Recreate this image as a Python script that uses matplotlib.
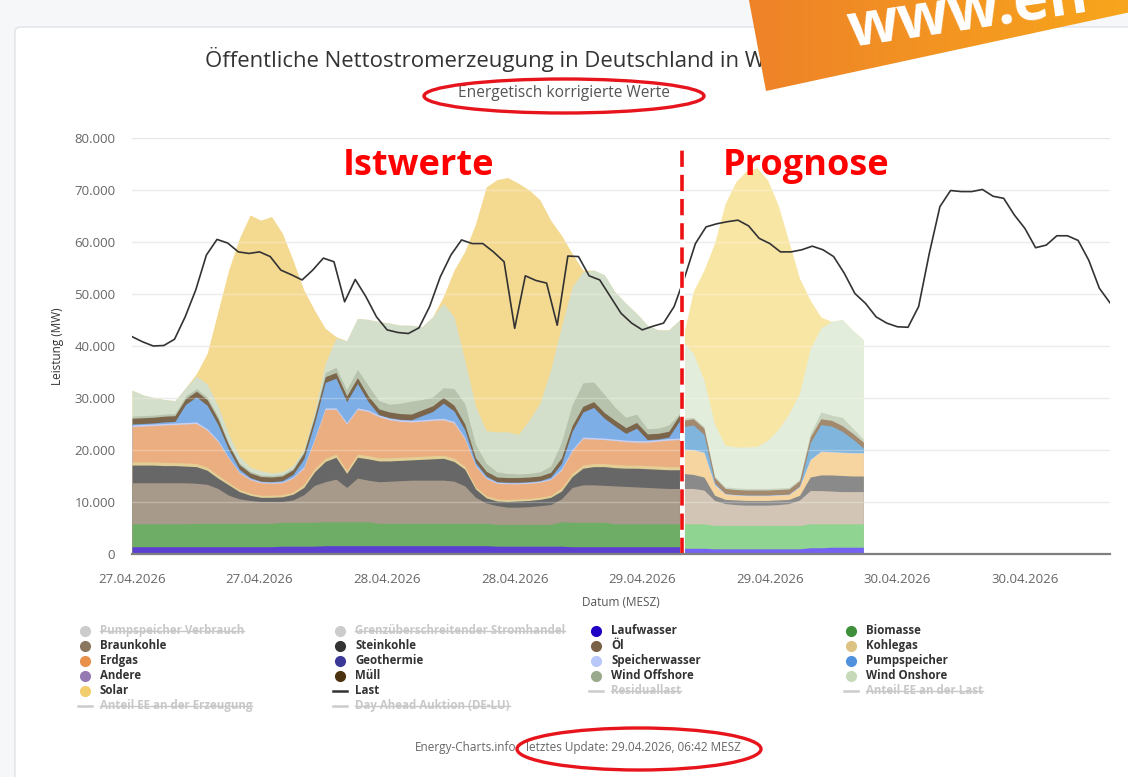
import numpy as np
import matplotlib
matplotlib.use("Agg")
import matplotlib.pyplot as plt
from matplotlib.lines import Line2D
from matplotlib.patches import Ellipse, Polygon, FancyBboxPatch
from matplotlib.colors import LinearSegmentedColormap

plt.rcParams["font.family"] = ["Open Sans", "DejaVu Sans"]

W, H = 1128, 777

# Istwerte in GW, ca. stündlich ab 27.04.2026 00:00 bis 29.04. ~03:30
laufwasser = [1.4, 1.4, 1.4, 1.4, 1.4, 1.4, 1.4, 1.4, 1.4, 1.4, 1.4, 1.4, 1.4, 1.4,
              1.5, 1.5, 1.5, 1.5,
              1.6, 1.6, 1.6, 1.6, 1.6, 1.6, 1.6, 1.6, 1.6, 1.6, 1.6, 1.6, 1.6, 1.6, 1.6, 1.6,
              1.5, 1.5, 1.5, 1.5, 1.5, 1.5, 1.5,
              1.4, 1.4, 1.4, 1.4, 1.4, 1.4, 1.4, 1.4, 1.4, 1.4, 1.4]
biomasse = [4.4, 4.4, 4.4, 4.4, 4.4, 4.4,
            4.5, 4.5, 4.5, 4.5, 4.5, 4.5, 4.5, 4.5,
            4.6, 4.6, 4.6, 4.6, 4.6, 4.6, 4.6, 4.6, 4.6,
            4.3, 4.3, 4.3, 4.3, 4.3, 4.3, 4.3, 4.3, 4.3, 4.3, 4.3,
            4.2, 4.2, 4.2, 4.2, 4.2, 4.2,
            4.7, 4.7, 4.7, 4.7, 4.7,
            4.4, 4.4, 4.4, 4.4, 4.4, 4.4, 4.4]
braunkohle = [7.9, 7.9, 7.9, 7.9, 7.9, 7.9, 7.7, 7.5, 6.7, 5.4, 4.7, 4.4, 4.2, 4.2,
              4.0, 4.3, 5.3, 7.1, 7.7, 8.2, 6.6, 8.4, 8.0, 8.0, 8.1, 8.2, 8.3, 8.3,
              8.3, 8.3, 8.1, 7.2, 5.0, 3.9, 3.6, 3.3, 3.3, 3.4, 3.6, 3.8, 4.4, 6.7,
              7.2, 7.2, 7.1, 7.3, 7.2, 7.1, 7.0, 6.9, 6.8, 6.8]
steinkohle = [3.4, 3.4, 3.4, 3.3, 3.3, 3.2, 3.2, 2.7, 2.0, 2.0, 1.4, 1.0, 0.8, 0.8,
              0.9, 1.1, 1.4, 2.6, 3.9, 4.2, 2.7, 4.0, 4.1, 4.0, 3.9, 3.9, 3.9, 4.0,
              4.1, 4.2, 3.8, 3.2, 1.6, 1.0, 0.9, 1.1, 1.2, 1.2, 1.2, 1.4, 1.5, 2.1,
              3.2, 3.5, 3.6, 3.5, 3.5, 3.6, 3.6, 3.6, 3.6, 3.6]
kohlegas = [0.6, 0.6, 0.6, 0.6, 0.6, 0.6, 0.6, 0.6, 0.6,
            0.4, 0.4, 0.4, 0.4, 0.4, 0.4, 0.4,
            0.6, 0.6, 0.6, 0.6, 0.6, 0.6, 0.6, 0.6, 0.6, 0.6, 0.6, 0.6, 0.6, 0.6, 0.6, 0.6,
            0.4, 0.4, 0.4, 0.4, 0.4, 0.4, 0.4, 0.4,
            0.6, 0.6, 0.6, 0.6, 0.6, 0.6, 0.6, 0.6, 0.6, 0.6, 0.6, 0.6]
erdgas = [6.8, 6.9, 7.0, 7.2, 7.3, 7.5, 7.7, 7.1, 6.4, 4.7, 3.2, 2.6, 2.4, 2.3,
          2.3, 2.7, 3.1, 5.5, 9.4, 8.6, 8.9, 8.6, 8.5, 7.9, 7.3, 6.9, 6.7, 6.7,
          6.8, 6.8, 6.8, 5.2, 4.0, 3.3, 3.0, 3.0, 2.9, 2.9, 2.9, 3.0, 3.4, 4.3,
          5.1, 4.7, 4.6, 4.6, 4.5, 4.4, 4.5, 4.8, 5.1, 5.2]
speicherwasser = [0.3, 0.3, 0.3, 0.3, 0.3, 0.3, 0.3, 0.3, 0.3,
                  0.2, 0.2, 0.2, 0.2, 0.2, 0.2, 0.2,
                  0.3, 0.3, 0.3, 0.3, 0.3, 0.3, 0.3, 0.3, 0.3, 0.3, 0.3, 0.3, 0.3, 0.3, 0.3, 0.3,
                  0.2, 0.2, 0.2, 0.2, 0.2, 0.2, 0.2, 0.2,
                  0.3, 0.3, 0.3, 0.3, 0.3, 0.3, 0.3, 0.3, 0.3, 0.3, 0.3, 0.3]
pumpspeicher = [0.2, 0.2, 0.2, 0.3, 0.3, 3.5, 4.8, 4.5, 3.0, 1.5, 0.5, 0.2, 0.1, 0.1,
                0.2, 0.5, 1.5, 3.0, 4.9, 5.7, 4.0, 4.7, 1.6, 0.1, 0.1, 0.1, 0.1, 0.8,
                1.4, 2.9, 2.0, 1.5, 0.5, 0.3, 0.1, 0.1, 0.1, 0.1, 0.1, 0.3, 1.0, 3.5,
                4.8, 5.8, 3.8, 2.5, 1.3, 2.4, 0.2, 0.1, 0.3, 3.3]
muell = [1.1, 1.1, 1.1, 1.1, 1.1, 1.1, 1.1, 1.1, 1.1,
         0.9, 0.9, 0.9, 0.9, 0.9, 0.9, 0.9,
         1.1, 1.1, 1.1, 1.1, 1.1, 1.1, 1.1, 1.1, 1.1, 1.1, 1.1, 1.1, 1.1, 1.1, 1.1, 1.1,
         0.9, 0.9, 0.9, 0.9, 0.9, 0.9, 0.9, 0.9,
         1.1, 1.1, 1.1, 1.1, 1.1, 1.1, 1.1, 1.1, 1.1, 1.1, 1.1, 1.1]
wind_offshore = [0.4, 0.4, 0.4, 0.4, 0.4, 0.5, 0.5, 0.5, 0.5, 0.3, 0.3, 0.3, 0.3, 0.3,
                 0.3, 0.3, 0.3, 0.4, 0.8, 1.0, 1.2, 1.6, 2.0, 1.6, 1.5, 2.0, 2.5, 2.0,
                 1.7, 1.9, 3.2, 3.9, 2.6, 1.5, 1.0, 0.8, 0.7, 0.7, 0.8, 1.2, 3.0, 4.0,
                 4.5, 3.8, 3.5, 2.5, 2.0, 1.6, 1.0, 1.0, 1.2, 0.3]
wind_onshore = [5.0, 4.0, 3.4, 2.8, 2.5, 1.6, 2.4, 2.5, 2.0, 1.8, 1.3, 0.8, 0.8, 0.5,
                0.5, 0.5, 0.4, 0.6, 1.8, 5.6, 9.4, 9.8, 12.7, 15.2, 15.6, 15.0, 14.6, 14.0,
                15.4, 16.2, 13.8, 8.4, 7.3, 6.3, 7.7, 8.0, 7.6, 10.3, 13.2, 18.5, 22.2, 22.7,
                21.4, 21.5, 23.0, 22.2, 21.9, 19.4, 19.9, 18.9, 18.3, 18.0]
solar = [0.0, 0.0, 0.0, 0.0, 0.0, 0.0, 0.5, 5.9, 18.1, 31.5, 41.9, 48.5, 48.2, 49.3,
         45.9, 39.5, 30.7, 19.6, 6.7, 0.3, 0.0, 0.0, 0.0, 0.0, 0.0, 0.0, 0.0, 0.0,
         0.0, 1.3, 9.0, 20.9, 35.1, 46.9, 48.5, 48.9, 48.3, 44.2, 39.1, 28.8, 17.6, 6.4,
         0.3, 0.0, 0.0, 0.0, 0.0, 0.0, 0.0, 0.0, 0.0, 0.0]

# Prognose in GW, stündlich ab 29.04. ~03:50
laufwasser_p = [1.1, 1.1, 1.1, 1.0, 1.0, 1.0, 1.0, 1.0, 1.0, 1.0, 1.0, 1.0, 1.2, 1.2, 1.3, 1.3, 1.3, 1.3]
biomasse_p = [4.7, 4.7, 4.7, 4.5, 4.5, 4.5, 4.5, 4.5, 4.5, 4.5, 4.5, 4.5, 4.6, 4.6, 4.5, 4.5, 4.5, 4.5]
braunkohle_p = [6.8, 6.8, 6.5, 4.8, 4.2, 4.0, 3.9, 3.9, 3.9, 4.0, 4.2, 4.9, 6.4, 6.4, 6.3, 6.2, 6.2, 6.2]
steinkohle_p = [2.9, 2.7, 2.5, 1.0, 0.8, 0.9, 0.9, 0.9, 0.9, 0.9, 0.8, 0.9, 2.6, 3.0, 3.1, 3.1, 3.0, 3.0]
kohlegas_p = [0.2, 0.2, 0.2, 0.2, 0.2, 0.2, 0.2, 0.2, 0.2, 0.2, 0.2, 0.2, 0.2, 0.2, 0.2, 0.2, 0.2, 0.2]
erdgas_p = [4.4, 4.5, 4.5, 1.8, 0.8, 0.7, 0.7, 0.7, 0.7, 0.7, 0.7, 1.4, 3.1, 4.3, 4.2, 4.2, 4.2, 4.2]
speicherwasser_p = [0.1, 0.1, 0.1, 0.1, 0.1, 0.1, 0.1, 0.1, 0.1, 0.1, 0.1, 0.1, 0.1, 0.1, 0.1, 0.1, 0.1, 0.1]
pumpspeicher_p = [4.3, 4.7, 3.4, 0.3, 0.0, 0.0, 0.0, 0.0, 0.0, 0.0, 0.0, 0.1, 3.2, 5.1, 4.9, 4.0, 2.6, 0.9]
muell_p = [1.2, 1.2, 1.2, 1.0, 1.0, 1.0, 1.0, 1.0, 1.0, 1.0, 1.0, 1.0, 1.1, 1.1, 1.1, 1.1, 1.1, 1.1]
wind_offshore_p = [0.4, 0.3, 0.3, 0.3, 0.3, 0.3, 0.3, 0.3, 0.3, 0.3, 0.3, 0.3, 0.6, 1.3, 1.0, 1.6, 1.0, 0.6]
wind_onshore_p = [14.9, 12.3, 9.0, 10.0, 8.0, 7.9, 8.0, 8.1, 9.3, 11.3, 14.2, 16.6, 16.4, 16.2, 18.0, 18.8, 18.8, 19.1]
solar_p = [0.5, 11.9, 21.1, 34.8, 46.5, 51.0, 53.1, 53.6, 50.0, 43.0, 33.0, 22.0, 9.3, 2.1, 0.0, 0.0, 0.0, 0.0]

# Last in GW, stündlich 27.04. 00:00 bis 30.04. 20:00
last = [41.8, 40.8, 40.0, 40.1, 41.3, 45.6, 50.8, 57.5, 60.5, 59.8, 58.1, 57.8, 58.1, 57.2,
        54.6, 53.7, 52.7, 54.6, 56.9, 56.2, 48.5, 52.8, 49.5, 45.6, 43.1, 42.6, 42.4, 43.5,
        47.6, 53.3, 57.5, 60.4, 59.7, 59.7, 58.1, 56.2, 43.4, 53.5, 52.6, 52.1, 44.0, 57.3,
        57.2, 53.5, 52.7, 49.5, 46.3, 44.4, 43.1, 43.8, 44.4, 47.6, 53.3, 59.7, 62.9, 63.5,
        63.9, 64.2, 63.1, 60.7, 59.7, 58.1, 58.1, 58.5, 59.2, 58.5, 57.2, 54.0, 50.1, 48.2,
        45.6, 44.4, 43.7, 43.6, 47.6, 57.8, 66.8, 69.9, 69.7, 69.7, 70.1, 68.8, 68.4, 65.2,
        62.6, 58.9, 59.4, 61.2, 61.2, 60.3, 56.5, 51.1, 48.3]

tick_pos = [0, 12, 24, 36, 48, 60, 72, 84]
tick_labels = ["27.04.2026", "27.04.2026", "28.04.2026", "28.04.2026",
               "29.04.2026", "29.04.2026", "30.04.2026", "30.04.2026"]

layers_ist = [laufwasser, biomasse, braunkohle, steinkohle, kohlegas, erdgas,
              speicherwasser, pumpspeicher, muell, wind_offshore, wind_onshore, solar]
layers_prog = [laufwasser_p, biomasse_p, braunkohle_p, steinkohle_p, kohlegas_p, erdgas_p,
               speicherwasser_p, pumpspeicher_p, muell_p, wind_offshore_p, wind_onshore_p, solar_p]
colors_ist = ["#5b3fd0", "#6ead66", "#a89a8a", "#676767", "#e3cf95", "#ebae80",
              "#c8cff2", "#7daee6", "#7b654b", "#b7c3ac", "#d4dfcb", "#f4d991"]
colors_prog = ["#7463f2", "#8fd490", "#d2c5b5", "#8a8a8a", "#f3d6a0", "#f6d5a1",
               "#c8d4f5", "#80b5dd", "#a3896e", "#c8d3c0", "#e3eddb", "#f8e6a5"]

t_ist = np.linspace(0, 51.5, len(solar))
t_prog = 51.8 + np.arange(len(solar_p))
t_last = np.arange(len(last))


def px(x, y):
    return x / W, 1 - y / H


fig = plt.figure(figsize=(W / 100, H / 100), dpi=100, facecolor="#f6f7f9")
fig.add_artist(FancyBboxPatch(px(15, 820), (W + 60) / W, (820 - 27) / H,
                              boxstyle="round,pad=0,rounding_size=0.006",
                              transform=fig.transFigure, fc="white", ec="#e1e3e7",
                              lw=1, zorder=-1))

ax = fig.add_axes([132 / W, 1 - 554 / H, (1110 - 132) / W, (554 - 138) / H])
ax.patch.set_alpha(0)


def draw_stack(t, layers, colors):
    tops = np.cumsum(np.array(layers) * 1000, axis=0)
    # von oben nach unten, jeweils ab 0 -> keine Nahtstellen
    for top, c in list(zip(tops, colors))[::-1]:
        ax.fill_between(t, 0, top, color=c, lw=0, zorder=2)


draw_stack(t_ist, layers_ist, colors_ist)
draw_stack(t_prog, layers_prog, colors_prog)

# Gitterlinien schimmern leicht durch die Flächen
for v in range(10000, 80000, 10000):
    ax.axhline(v, color="white", alpha=0.28, lw=1, zorder=3)

ax.plot(t_last, np.array(last) * 1000, color="#333333", lw=1.2, zorder=4)

ax.plot([51.7, 51.7], [0, 78300], color="white", lw=3.5, zorder=5)
ax.plot([51.7, 51.7], [0, 78300], color="#ee1111", lw=2.6, dashes=(4.5, 2.2), zorder=6)

ax.set_xlim(0, 92)
ax.set_ylim(0, 80000)
yt = list(range(0, 80001, 10000))
ax.set_yticks(yt)
ax.set_yticklabels([f"{v:,}".replace(",", ".") for v in yt])
ax.set_xticks(tick_pos)
ax.set_xticklabels(tick_labels)
ax.yaxis.grid(True, color="#e6e6e6", lw=1)
ax.set_axisbelow(True)
for s in ["top", "right", "left"]:
    ax.spines[s].set_visible(False)
ax.spines["bottom"].set_color("#7f7f7f")
ax.spines["bottom"].set_linewidth(1.6)
ax.spines["bottom"].set_zorder(7)
ax.tick_params(length=0, labelsize=9.5, colors="#666666")
ax.tick_params(axis="y", pad=12)
ax.tick_params(axis="x", pad=14)

fig.text(*px(58, 346), "Leistung (MW)", rotation=90, ha="center", va="center",
         fontsize=8.5, color="#333333")
fig.text(*px(621, 602), "Datum (MESZ)", ha="center", va="center", fontsize=8.5, color="#555555")

fig.text(*px(205, 60), "Öffentliche Nettostromerzeugung in Deutschland in Woche 18",
         ha="left", va="center", fontsize=15.9, color="#333333")
fig.text(*px(564, 93), "Energetisch korrigierte Werte", ha="center", va="center",
         fontsize=11.2, color="#555555")

fig.text(*px(418, 166), "Istwerte", ha="center", va="center", fontsize=26,
         fontweight="bold", color="#ff0000", zorder=8)
fig.text(*px(806, 166), "Prognose", ha="center", va="center", fontsize=26,
         fontweight="bold", color="#ff0000", zorder=8)

fig.text(*px(415, 748), "Energy-Charts.info", ha="left", va="center", fontsize=8.5, color="#666666")
fig.text(*px(526, 748), "letztes Update: 29.04.2026, 06:42 MESZ", ha="left", va="center",
         fontsize=8.5, color="#666666")

# rote Markierungen
for cx, cy, ew, eh in [(564, 96, 280, 34), (639, 749, 244, 42)]:
    fig.add_artist(Ellipse(px(cx, cy), ew / W, eh / H, transform=fig.transFigure,
                           fill=False, ec="#e8141c", lw=2.4, zorder=9))

# oranges Banner oben rechts (mit Farbverlauf)
bax = fig.add_axes([0, 0, 1, 1], zorder=10)
bax.set_xlim(0, W)
bax.set_ylim(H, 0)
bax.axis("off")
bax.patch.set_alpha(0)
banner = Polygon([(748, -5), (1140, -5), (1140, 10), (766, 91)], closed=True,
                 fc="none", ec="none")
bax.add_patch(banner)
grad_cmap = LinearSegmentedColormap.from_list("banner", ["#ee8228", "#f8a71c"])
im = bax.imshow(np.linspace(0, 1, 256).reshape(1, -1), extent=(748, 1140, 95, -5),
                cmap=grad_cmap, aspect="auto", zorder=1)
im.set_clip_path(banner)
bax.text(850, 48, "www.en", rotation=8.5, rotation_mode="anchor",
         ha="left", va="baseline", fontsize=43, fontweight="bold", color="white", zorder=2)

# Legende
legend_items = [
    ("Pumpspeicher Verbrauch", "o", "#cccccc", True),
    ("Grenzüberschreitender Stromhandel", "o", "#cccccc", True),
    ("Laufwasser", "o", "#1f00c4", False),
    ("Biomasse", "o", "#3d8f3a", False),
    ("Braunkohle", "o", "#8b7660", False),
    ("Steinkohle", "o", "#333333", False),
    ("Öl", "o", "#7a6248", False),
    ("Kohlegas", "o", "#dcc383", False),
    ("Erdgas", "o", "#e8904c", False),
    ("Geothermie", "o", "#3c3898", False),
    ("Speicherwasser", "o", "#b8c8fa", False),
    ("Pumpspeicher", "o", "#4f91dd", False),
    ("Andere", "o", "#9679b2", False),
    ("Müll", "o", "#4a3210", False),
    ("Wind Offshore", "o", "#9aab8d", False),
    ("Wind Onshore", "o", "#c6dab9", False),
    ("Solar", "o", "#f2cd6b", False),
    ("Last", "-", "#333333", False),
    ("Residuallast", "-", "#cccccc", True),
    ("Anteil EE an der Last", "-", "#cccccc", True),
    ("Anteil EE an der Erzeugung", "-", "#cccccc", True),
    ("Day Ahead Auktion (DE-LU)", "-", "#cccccc", True),
]
col_x = [85, 340, 596, 851]
hidden_texts = []
for i, (name, kind, c, hidden) in enumerate(legend_items):
    x = col_x[i % 4]
    y = 630.5 + 15 * (i // 4)
    if kind == "o":
        fig.add_artist(Line2D([px(x, y)[0]], [px(x, y)[1]], marker="o", ms=7, color=c,
                              lw=0, transform=fig.transFigure))
    else:
        fig.add_artist(Line2D([px(x - 7, y)[0], px(x + 7, y)[0]], [px(x, y)[1]] * 2,
                              color=c, lw=1.8, transform=fig.transFigure))
    t = fig.text(*px(x + 15, y), name, ha="left", va="center", fontsize=8.3,
                 fontweight="bold", color="#c8c8c8" if hidden else "#333333")
    if hidden:
        hidden_texts.append(t)

fig.canvas.draw()
renderer = fig.canvas.get_renderer()
inv = fig.transFigure.inverted()
for t in hidden_texts:
    bb = t.get_window_extent(renderer)
    ym = (bb.y0 + bb.y1) / 2 - 0.5
    (x0, y0), (x1, _) = inv.transform([(bb.x0, ym), (bb.x1, ym)])
    fig.add_artist(Line2D([x0, x1], [y0, y0], color="#c8c8c8", lw=1.0,
                          transform=fig.transFigure))

fig.savefig("out.png", dpi=100, facecolor=fig.get_facecolor())
